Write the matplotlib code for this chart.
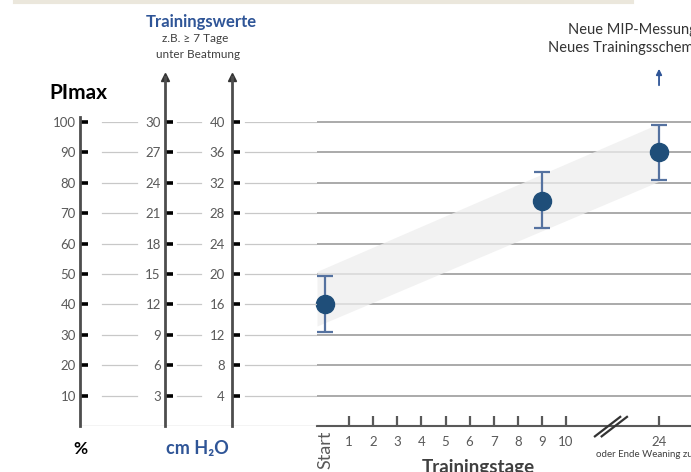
import matplotlib
matplotlib.use('Agg')
import matplotlib.pyplot as plt
import numpy as np

plt.rcParams['font.family'] = ['Lato', 'DejaVu Sans']

# --- Daten ---
day_labels = ['Start', '1', '2', '3', '4', '5', '6', '7', '8', '9', '10', '24']
day_pos = [0, 1, 2, 3, 4, 5, 6, 7, 8, 9, 10, 13.86]   # 24 liegt hinter dem Achsenbruch
meas_days = ['Start', '9', '24']
pimax_mean = [40, 74, 90]
pimax_low = [31, 65, 81]
pimax_high = [49.5, 83.5, 99]
band_days = ['Start', '24']
band_low = [34, 80.5]
band_high = [52, 99.5]
pct_ticks = [10, 20, 30, 40, 50, 60, 70, 80, 90, 100]
cm30_ticks = [3, 6, 9, 12, 15, 18, 21, 24, 27, 30]
cm40_ticks = [4, 8, 12, 16, 20, 24, 28, 32, 36, 40]

W, H = 691, 472
GRAY = '#595959'
BLUE = '#2f5597'
DARKBLUE = '#1f4e79'

def fx(px):
    return px / W

def fy(py):
    return 1 - py / H

y0_px, y100_px = 426, 122
px_per_pct = (y0_px - y100_px) / 100.0
px_per_day = 24.1
start_px = 325

fig = plt.figure(figsize=(W / 100, H / 100), dpi=100)

# Hauptdiagramm
main_left, main_right, main_top = 317, 760, 60
ax = fig.add_axes([fx(main_left), fy(y0_px), (main_right - main_left) / W, (y0_px - main_top) / H])
ax.set_xlim((main_left - start_px) / px_per_day, (main_right - start_px) / px_per_day)
ax.set_ylim(0, (y0_px - main_top) / px_per_pct)
ax.patch.set_alpha(0)
for s in ['top', 'right', 'left']:
    ax.spines[s].set_visible(False)
ax.spines['bottom'].set_color(GRAY)
ax.spines['bottom'].set_linewidth(1.5)
ax.set_yticks([])
for v in pct_ticks:
    ax.axhline(v, color='#aaaaaa', lw=1.4, zorder=1)

pos = dict(zip(day_labels, day_pos))
# Korridor
bx = [pos[d] for d in band_days]
slope_lo = (band_low[1] - band_low[0]) / (bx[1] - bx[0])
slope_hi = (band_high[1] - band_high[0]) / (bx[1] - bx[0])
xl = ax.get_xlim()[0]
xs = np.array([xl, bx[1]])
ax.fill_between(xs, band_low[0] + slope_lo * (xs - bx[0]), band_high[0] + slope_hi * (xs - bx[0]),
                color='#eeeeee', alpha=0.75, lw=0, zorder=2)

mx = [pos[d] for d in meas_days]
mean = np.array(pimax_mean)
yerr = [mean - np.array(pimax_low), np.array(pimax_high) - mean]
ax.errorbar(mx, mean, yerr=yerr, fmt='o', color=DARKBLUE, ms=13, ecolor='#5572a0',
            elinewidth=1.6, capsize=6, capthick=1.6, zorder=4, clip_on=False)

ax.set_xticks(day_pos)
ax.set_xticklabels(day_labels)
ax.tick_params(axis='x', direction='in', length=7, width=1.6, color=GRAY, labelcolor=GRAY,
               labelsize=9.5, pad=7)
t0 = ax.xaxis.get_major_ticks()[0]
t0.tick1line.set_visible(False)
lab0 = ax.get_xticklabels()[0]
lab0.set_rotation(90)
lab0.set_fontsize(13)
lab0.set_va('top')
lab0.set_ha('center')
t0.set_pad(3)

# Achsenbruch
brk = 11.75
for off in (0, 0.28):
    ax.plot([brk - 0.55 + off, brk + 0.5 + off], [-3.4, 3.0], color='#333333', lw=1.6,
            clip_on=False, zorder=5)

ax.text(pos['24'] - 2.6, -9.3, 'oder Ende Weaning zum', fontsize=7, color='#404040',
        ha='left', va='center', clip_on=False)
ax.text(6.35, -10.8, 'Trainingstage', fontsize=13.5, fontweight='bold', color='#404040',
        ha='center', va='top', clip_on=False)

# Hintergrund fuer Linien zwischen den Skalen
bg = fig.add_axes([fx(80), fy(y0_px), (317 - 80) / W, (y0_px - y100_px) / H])
bg.set_xlim(80, 317)
bg.set_ylim(0, 100)
bg.axis('off')
for v in pct_ticks:
    for a, b in [(102, 137), (177, 201), (245, 317)]:
        bg.plot([a, b], [v, v], color='#c8c8c8', lw=0.9)
bg.plot([80, 317], [0, 0], color='#c8c8c8', lw=1.0)

# Skalen
def scale_axis(x_px, top_px, factor, ticks, arrow, pad):
    top_val = (y0_px - top_px) / px_per_pct * factor
    a = fig.add_axes([fx(x_px), fy(y0_px), 1 / W, (y0_px - top_px) / H])
    a.set_ylim(0, top_val)
    a.patch.set_alpha(0)
    for s in ['top', 'right', 'bottom']:
        a.spines[s].set_visible(False)
    a.spines['left'].set_color('#4d4d4d')
    a.spines['left'].set_linewidth(2.0)
    a.set_xticks([])
    a.set_yticks(ticks)
    a.tick_params(axis='y', direction='in', length=6, width=2.6, color='black',
                  labelcolor=GRAY, labelsize=9.5, pad=pad)
    if arrow:
        a.plot([0], [1], marker='^', ms=6, color='#333333', transform=a.transAxes, clip_on=False)
    return a

scale_axis(80, 117, 1.0, pct_ticks, False, 3)
scale_axis(165, 77, 0.3, cm30_ticks, True, 3)
scale_axis(232, 77, 0.4, cm40_ticks, True, 5)

# Beschriftungen
fig.text(fx(78), fy(93), 'PImax', fontsize=15, fontweight='bold', color='black', ha='center', va='center')
fig.text(fx(201), fy(22), 'Trainingswerte', fontsize=12, fontweight='bold', color=BLUE,
         ha='center', va='center')
fig.text(fx(195), fy(38), 'z.B. ≥ 7 Tage', fontsize=8.5, color='#404040', ha='center', va='center')
fig.text(fx(198), fy(54), 'unter Beatmung', fontsize=8.5, color='#404040', ha='center', va='center')
fig.text(fx(80), fy(449), '%', fontsize=12.5, fontweight='bold', color='black', ha='center', va='center')
fig.text(fx(197), fy(449), 'cm H₂O', fontsize=13, fontweight='bold', color=BLUE, ha='center', va='center')

fig.text(fx(568), fy(30), 'Neue MIP-Messung', fontsize=10.5, color='#333333', ha='left', va='center')
fig.text(fx(548), fy(48), 'Neues Trainingsschema', fontsize=10.5, color='#333333', ha='left', va='center')
ax.annotate('', xy=(pos['24'], (y0_px - 66) / px_per_pct), xytext=(pos['24'], (y0_px - 88) / px_per_pct),
            arrowprops=dict(arrowstyle='-|>', color=BLUE, lw=1.3, mutation_scale=8), annotation_clip=False)

# Rand oben
fig.add_artist(plt.Line2D([fx(15), fx(632)], [fy(1.5), fy(1.5)], color='#ebe7dc', lw=3,
                          transform=fig.transFigure))

fig.savefig('out.png', dpi=100)
